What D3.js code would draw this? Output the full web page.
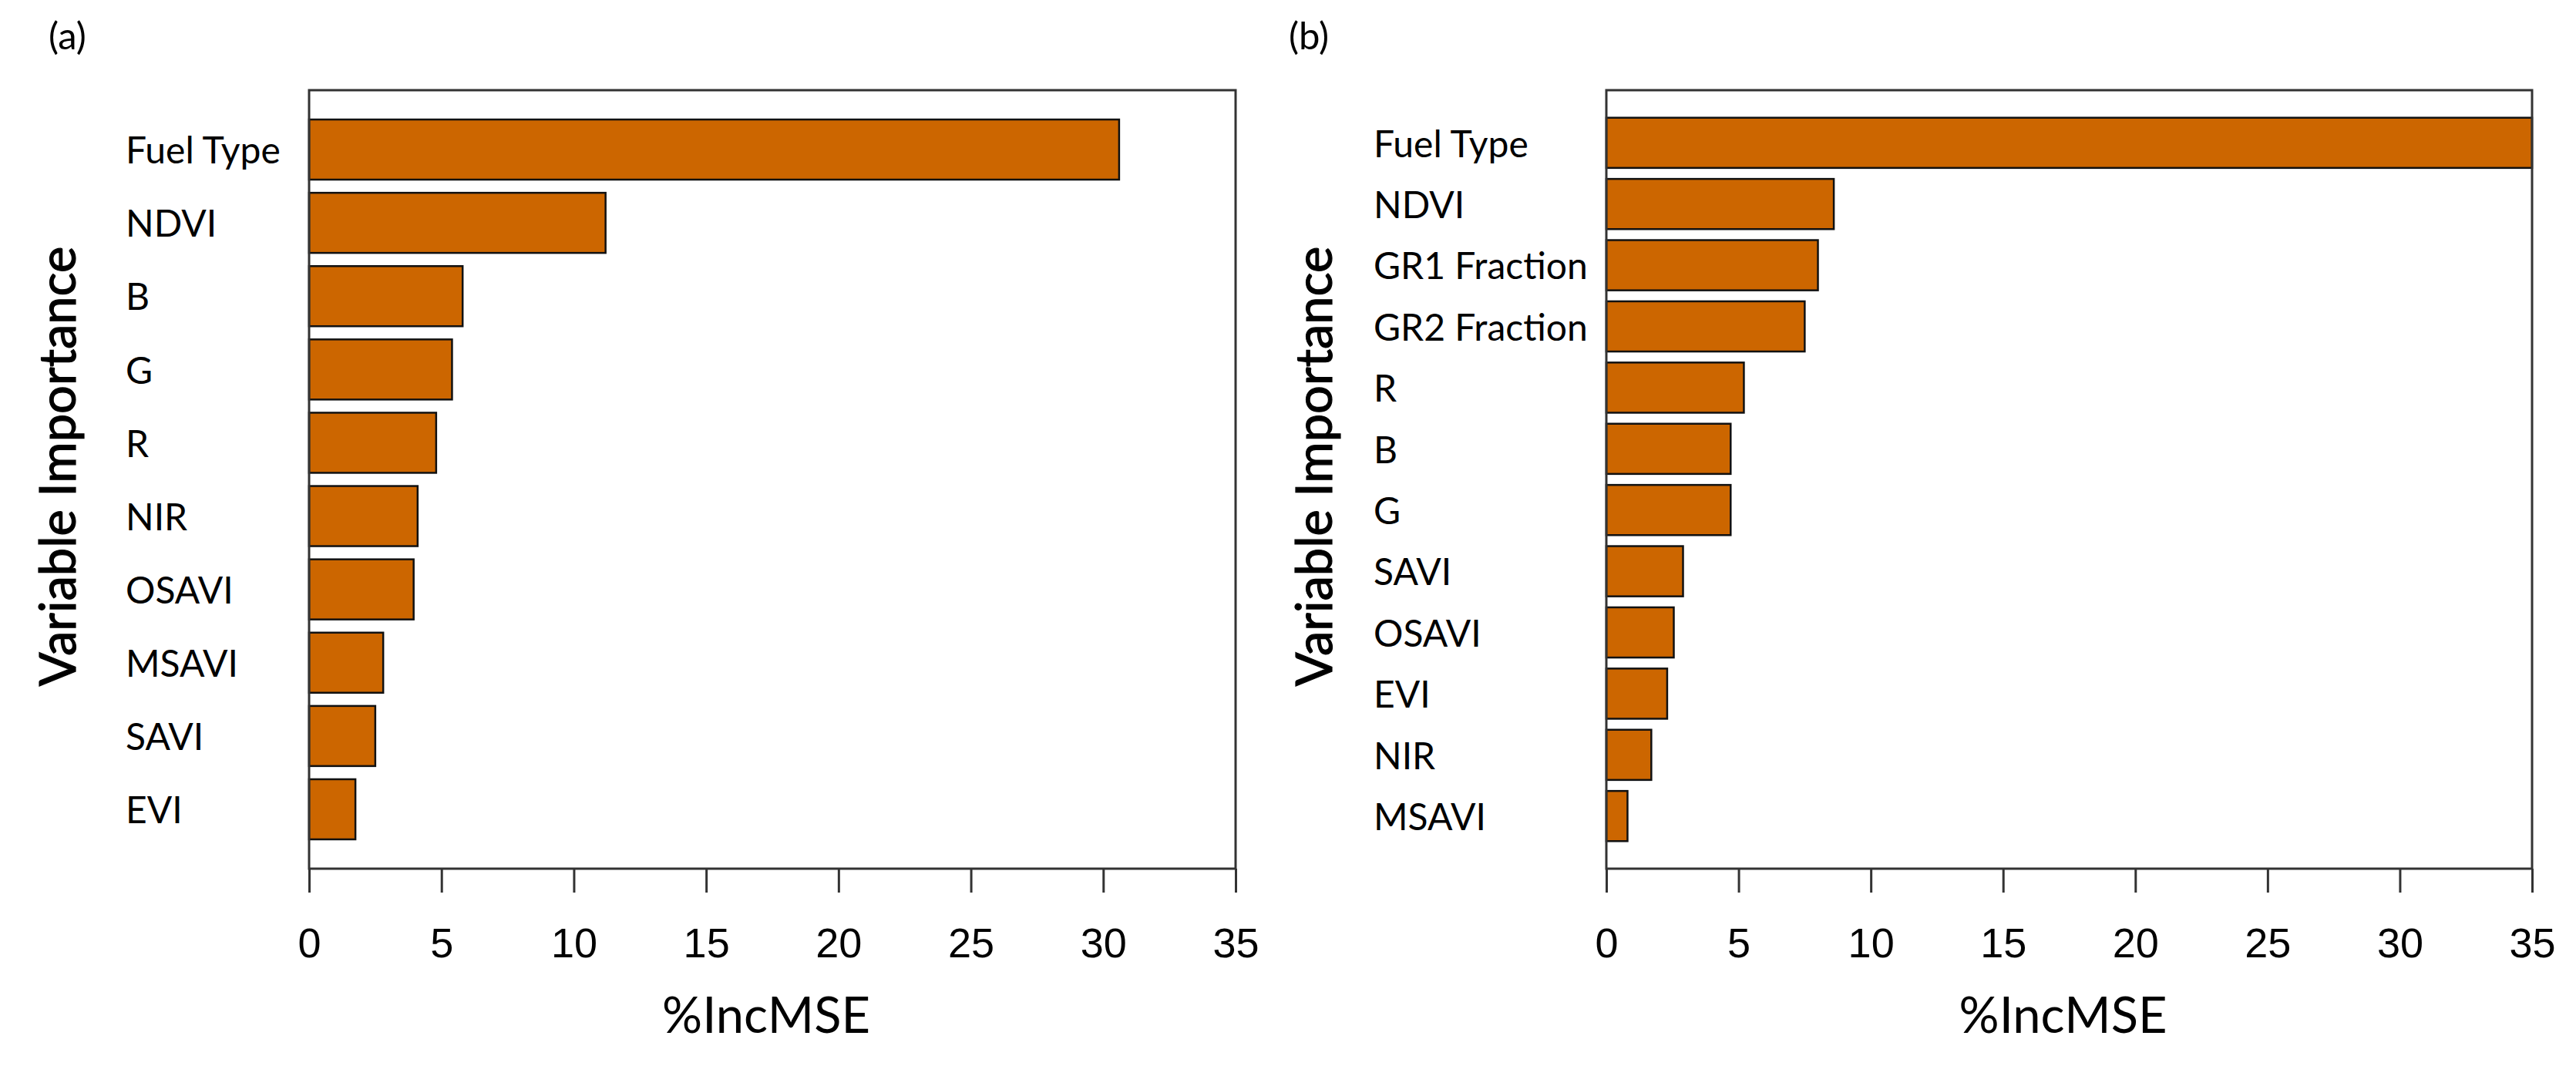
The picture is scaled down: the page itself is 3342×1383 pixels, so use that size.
<!DOCTYPE html>
<html>
<head>
<meta charset="utf-8">
<script src="https://cdn.jsdelivr.net/npm/d3@7"></script>
<style>
  body { margin: 0; background: #fff; }
</style>
</head>
<body>
<div id="chart"></div>
<script>
// Variable importance, panel (a)
var varsA = ["Fuel Type", "NDVI", "B", "G", "R", "NIR", "OSAVI", "MSAVI", "SAVI", "EVI"];
var incMseA = [30.6, 11.2, 5.8, 5.4, 4.8, 4.1, 3.95, 2.8, 2.5, 1.75];

// Variable importance, panel (b)
var varsB = ["Fuel Type", "NDVI", "GR1 Fraction", "GR2 Fraction", "R", "B", "G", "SAVI", "OSAVI", "EVI", "NIR", "MSAVI"];
var incMseB = [35, 8.6, 8.0, 7.5, 5.2, 4.7, 4.7, 2.9, 2.55, 2.3, 1.7, 0.8];

var xTicks = [0, 5, 10, 15, 20, 25, 30, 35];
var panelTags = ["(a)", "(b)"];
var xTitle = "%IncMSE";
var yTitle = "Variable Importance";

var width = 3342,
    height = 1383,
    boxTop = 117,
    boxBottom = 1127,
    barFill = "#cc6600",
    lineColor = "#333";

var svg = d3.select("#chart").append("svg")
    .attr("width", width)
    .attr("height", height);

var drawPanel = function(cfg) {
    var x = d3.scaleLinear().domain([0, 35]).range([cfg.left, cfg.right]);
    var y = d3.scaleBand()
        .domain(cfg.names)
        .range([boxTop, boxBottom])
        .paddingInner(cfg.padIn)
        .paddingOuter(cfg.padOut);

    var g = svg.append("g").attr("class", "panel");

    // panel tag
    g.append("text")
        .attr("x", cfg.tagX)
        .attr("y", 64)
        .style("font-family", "Lato, 'Open Sans', sans-serif")
        .style("font-size", "49px")
        .text(cfg.tag);

    // bars
    g.selectAll(".bar")
        .data(cfg.values)
        .enter()
        .append("rect")
        .attr("class", "bar")
        .attr("x", x(0))
        .attr("y", function(d, i) { return y(cfg.names[i]); })
        .attr("width", function(d) { return x(d) - x(0); })
        .attr("height", y.bandwidth())
        .attr("fill", barFill)
        .attr("stroke", "#111")
        .attr("stroke-width", 2.5);

    // category labels, left aligned
    g.selectAll(".cat")
        .data(cfg.names)
        .enter()
        .append("text")
        .attr("class", "cat")
        .attr("x", cfg.labelX)
        .attr("y", function(d) { return y(d) + y.bandwidth() / 2; })
        .attr("dy", "0.38em")
        .style("font-family", "Lato, 'Open Sans', sans-serif")
        .style("font-size", "48px")
        .text(function(d) { return d; });

    // box
    g.append("rect")
        .attr("x", cfg.left)
        .attr("y", boxTop)
        .attr("width", cfg.right - cfg.left)
        .attr("height", boxBottom - boxTop)
        .attr("fill", "none")
        .attr("stroke", lineColor)
        .attr("stroke-width", 3);

    // x axis
    var axis = d3.axisBottom(x)
        .tickValues(xTicks)
        .tickSize(31)
        .tickPadding(46)
        .tickFormat(d3.format("d"));

    var ax = g.append("g")
        .attr("transform", "translate(0," + boxBottom + ")")
        .call(axis);
    ax.select(".domain").remove();
    ax.selectAll(".tick line")
        .attr("stroke", lineColor)
        .attr("stroke-width", 3);
    ax.selectAll(".tick text")
        .attr("fill", "#000")
        .style("font-family", "'Liberation Sans', Arial, sans-serif")
        .style("font-size", "54px");

    // axis titles
    g.append("text")
        .attr("x", (cfg.left + cfg.right) / 2 - 8)
        .attr("y", 1340)
        .attr("text-anchor", "middle")
        .style("font-family", "Lato, 'Open Sans', sans-serif")
        .style("font-size", "65px")
        .text(xTitle);

    g.append("text")
        .attr("transform", "translate(" + cfg.yTitleX + "," + ((boxTop + boxBottom) / 2 - 17) + ") rotate(-90)")
        .attr("text-anchor", "middle")
        .attr("stroke", "#000")
        .attr("stroke-width", 1.2)
        .style("font-family", "Lato, 'Open Sans', sans-serif")
        .style("font-size", "65px")
        .text(yTitle);
};

drawPanel({
    names: varsA, values: incMseA, tag: panelTags[0],
    left: 401, right: 1603, padIn: 0.18, padOut: 0.4,
    labelX: 163, tagX: 63, yTitleX: 98
});

drawPanel({
    names: varsB, values: incMseB, tag: panelTags[1],
    left: 2084, right: 3285, padIn: 0.18, padOut: 0.45,
    labelX: 1782, tagX: 1672, yTitleX: 1728
});
</script>
</body>
</html>
